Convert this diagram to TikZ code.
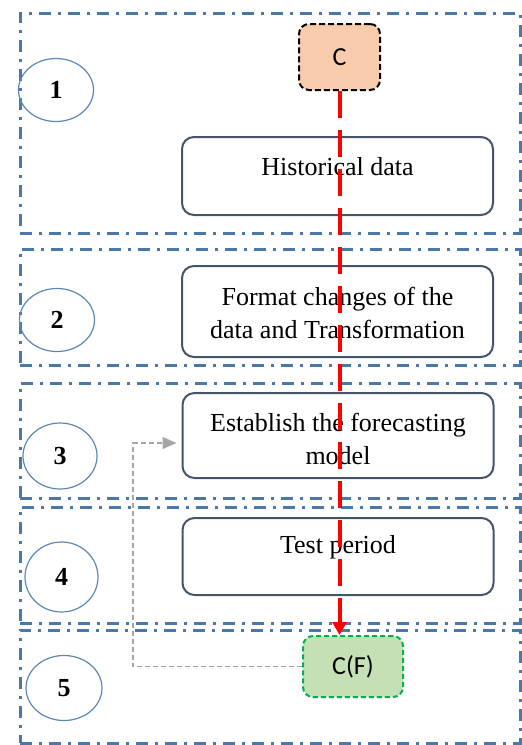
\documentclass[tikz,border=0pt]{standalone}
\usepackage{fontspec}
\setmainfont{Liberation Serif}
\newfontfamily\calib{Carlito}
\usetikzlibrary{arrows.meta,shapes.geometric}
\definecolor{bandblue}{HTML}{4A78A8}
\definecolor{ellblue}{HTML}{5B87B5}
\definecolor{boxline}{HTML}{44546A}
\definecolor{peach}{HTML}{F8CBAD}
\definecolor{lgreen}{HTML}{C5E0B4}
\definecolor{dgreen}{HTML}{00B050}
\definecolor{lgray}{HTML}{A6A6A6}
\begin{document}
\begin{tikzpicture}[x=1pt,y=-1pt,
  band/.style={draw=bandblue, line width=3pt, dash pattern=on 12pt off 7pt on 3pt off 7pt,
    rectangle, minimum width=500pt, inner sep=0pt},
  numell/.style={draw=ellblue, line width=1.2pt, ellipse, inner sep=0pt,
    font=\fontsize{26}{30}\selectfont\bfseries},
  stepbox/.style={draw=boxline, line width=2pt, rounded corners=12pt, rectangle,
    minimum width=311pt, inner sep=0pt},
  boxtext/.style={font=\fontsize{26}{33}\selectfont, align=center, inner sep=0pt},
  cnode/.style={rectangle, rounded corners=10pt, line width=2pt, inner sep=0pt,
    font=\calib\fontsize{26}{30}\selectfont},
  redarrow/.style={draw=red, line width=4pt, dash pattern=on 27pt off 12pt,
    -{Triangle[length=13pt,width=14pt]}},
  grayarrow/.style={draw=lgray, line width=1.2pt, dash pattern=on 5pt off 3pt,
    -{Triangle[length=14pt,width=12pt]}, shorten >=5pt}
]
\useasboundingbox (0,0) rectangle (522,745);
% bands
\node[band, minimum height=220pt] (band1) at (270,123) {};
\node[band, minimum height=116pt] (band2) at (270,307) {};
\node[band, minimum height=115pt] (band3) at (270,440.5) {};
\node[band, minimum height=116pt] (band4) at (270,565) {};
\node[band, minimum height=113pt] (band5) at (270,686.5) {};
% number ellipses
\node[numell, minimum width=75pt, minimum height=63pt] (n1) at (56,90) {1};
\node[numell, minimum width=75pt, minimum height=63pt] (n2) at (57,320) {2};
\node[numell, minimum width=74pt, minimum height=66pt] (n3) at (60,456) {3};
\node[numell, minimum width=73pt, minimum height=70pt] (n4) at (61.5,577) {4};
\node[numell, minimum width=76pt, minimum height=65pt] (n5) at (64,688) {5};
% step boxes
\node[stepbox, minimum height=78pt] (b1) at (337.5,176) {};
\node[boxtext] (t1) at (337.5,167) {Historical data};
\node[stepbox, minimum height=91pt] (b2) at (337.5,311.5) {};
\node[boxtext] (t2) at (337.5,313) {Format changes of the\\data and Transformation};
\node[stepbox, minimum height=85pt] (b3) at (338,435.5) {};
\node[boxtext] (t3) at (338,439) {Establish the forecasting\\model};
\node[stepbox, minimum height=77pt] (b4) at (338,556.5) {};
\node[boxtext] (t4) at (338,547) {Test period};
% C nodes
\node[cnode, draw=black, dash pattern=on 6pt off 3pt, fill=peach,
  minimum width=81pt, minimum height=66pt] (C) at (339.5,57) {C};
\node[cnode, draw=dgreen, dash pattern=on 5pt off 3pt, fill=lgreen,
  minimum width=100pt, minimum height=61pt] (CF) at (353,666.5) {C(F)};
% connectors
\draw[redarrow] (C.south) -- (C.south |- CF.north);
\coordinate (g) at (133,443);
\draw[grayarrow] (CF.west) -| (g) -- (b3.west |- g);
\end{tikzpicture}
\end{document}
